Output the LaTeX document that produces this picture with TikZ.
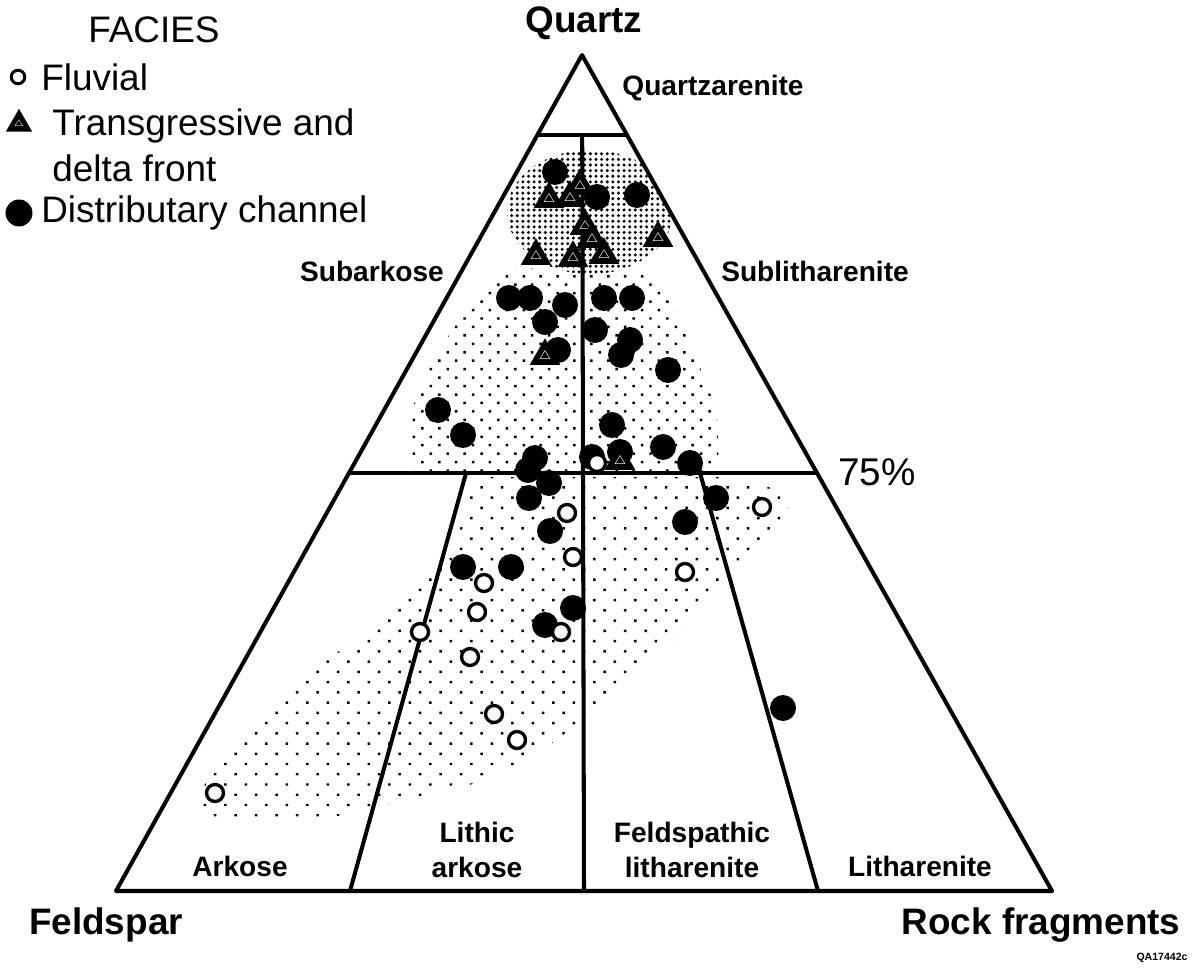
\documentclass[tikz,border=0pt]{standalone}
\usepackage{fontspec}
\setmainfont{Liberation Sans}
\usepackage{tikz}
\usetikzlibrary{shapes.geometric,patterns.meta,calc}

\begin{document}
\begin{tikzpicture}[x=0.02cm, y=-0.02cm,
    edge/.style={line width=2.3pt, line join=round},
    apex/.style={font=\fontsize{21}{25}\selectfont\bfseries},
    field/.style={font=\fontsize{16}{20}\selectfont\bfseries, align=center},
    legend/.style={font=\fontsize{21}{26}\selectfont, anchor=west, align=left, inner sep=0pt},
    distr/.style={circle, fill=black, inner sep=0pt, minimum size=5.2mm},
    fluv/.style={circle, draw=black, fill=white, line width=1.9pt, inner sep=0pt, minimum size=3.4mm},
    trans/.style={regular polygon, regular polygon sides=3, fill=black, inner sep=0pt,
      minimum size=5.8mm, text=white, font=\scriptsize},
  ]
  \useasboundingbox (0,0) rectangle (1196,969);

  % Corners of the triangle
  \coordinate (Q) at (582,55);
  \coordinate (F) at (116,891);
  \coordinate (R) at (1052,891);

  % Class limits
  \coordinate (q95l) at ($(Q)!0.0957!(F)$);
  \coordinate (q95r) at ($(Q)!0.0957!(R)$);
  \coordinate (q75l) at ($(Q)!0.5!(F)$);
  \coordinate (q75r) at ($(Q)!0.5!(R)$);

  % Stippled fields
  \fill[pattern={Dots[distance=6.8pt, radius=1pt, angle=45]}, rounded corners=8pt]
    (510,268) -- (655,272) -- (672,305) -- (695,355) -- (717,410) -- (719,473)
    -- (410,473) -- (408,420) -- (425,375) -- (455,325) -- (485,285) -- cycle;
  \fill[pattern={Dots[distance=8.25pt, radius=1pt, angle=45]}, rounded corners=8pt]
    (470,477) -- (730,477) -- (787,492) -- (790,515) -- (735,575) -- (680,636)
    -- (610,700) -- (560,737) -- (527,763) -- (465,787) -- (380,806) -- (330,818)
    -- (200,818) -- (198,795) -- (225,753) -- (297,683) -- (360,635) -- (420,588)
    -- (458,540) -- cycle;
  \begin{scope}
    \clip (Q) -- (F) -- (R) -- cycle;
    \fill[pattern={Dots[distance=3.2pt, radius=0.95pt]}] (590,212) ellipse [x radius=1.66cm, y radius=1.24cm];
  \end{scope}

  % Triangle and class lines
  \draw[edge] (Q) -- (F) -- (R) -- cycle;
  \draw[edge] (q95l) -- (q95r);
  \draw[edge] (q75l) -- (q75r);
  \draw[edge] ($(q95l)!0.5!(q95r)$) -- ($(F)!0.5!(R)$);
  \draw[edge] ($(q75l)!0.25!(q75r)$) -- ($(F)!0.25!(R)$);
  \draw[edge] ($(q75l)!0.75!(q75r)$) -- ($(F)!0.75!(R)$);

  % Samples
  \foreach \p [count=\i] in {(555,172),(597,197),(637,195),
      (509,298),(530,298),(565,305),(545,322),(558,350),
      (604,298),(632,298),(595,330),(630,340),(621,355),(668,370),
      (438,410),(463,435),(612,425),(663,447),(620,452),(592,457),(690,463),
      (535,458),(528,470),(549,483),(529,498),(716,498),
      (550,531),(685,522),(463,567),(511,567),(573,608),(545,625),(783,708)}
    \node[distr] (d\i) at \p {};
  \foreach \p [count=\i] in {(580,186),(549,199),(570,198),(585,226),(592,239),(658,238),
      (536,256),(573,258),(604,255),(545,356),(620,461)}
    \node[trans] (t\i) at \p {$\triangle$};
  \foreach \p [count=\i] in {(597,463),(762,507),(567,513),(573,557),(484,583),(685,572),
      (477,612),(561,632),(420,632),(470,657),(494,714),(517,740),(215,793)}
    \node[fluv] (f\i) at \p {};

  % End members
  \node[apex] (quartz) at (584,23) {Quartz};
  \node[apex] (feldspar) at (106,925) {Feldspar};
  \node[apex] (rock) at (1041,925) {Rock fragments};

  % Rock names
  \node[field] (qzar) at (713,88) {Quartzarenite};
  \node[field] (subark) at (372,271) {Subarkose};
  \node[field] (sublith) at (815,271) {Sublitharenite};
  \node[field] (ark) at (240,866) {Arkose};
  \node[field] (lark) at (477,850) {Lithic\\arkose};
  \node[field] (flith) at (692,850) {Feldspathic\\litharenite};
  \node[field] (lith) at (920,866) {Litharenite};
  \node[font=\fontsize{22}{26}\selectfont] (pct) at (877,472) {75\%};
  \node[font=\fontsize{6}{7}\selectfont\bfseries] (code) at (1162,958) {QA17442c};

  % Legend
  \node[legend] (facies) at (88,30) {FACIES};
  \node[fluv, minimum size=2.7mm, line width=1.7pt] (kfluv) at (18,77) {};
  \node[legend] (lfluv) at (41,77) {Fluvial};
  \node[trans, minimum size=5mm, font=\tiny] (ktrans) at (19,124) {$\triangle$};
  \node[legend] (ltrans) at (52,145) {Transgressive and\\delta front};
  \node[distr, minimum size=5.4mm] (kdistr) at (19,213) {};
  \node[legend] (ldistr) at (41,213) {Distributary channel};
\end{tikzpicture}
\end{document}
